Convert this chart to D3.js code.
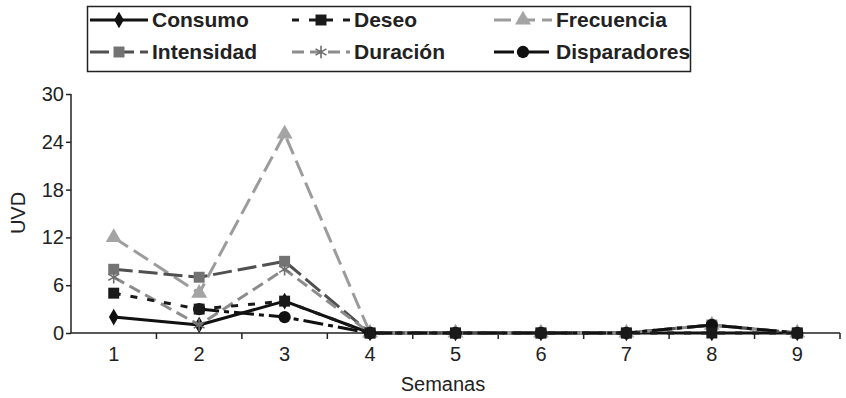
<!DOCTYPE html>
<html><head><meta charset="utf-8">
<script src="https://cdn.jsdelivr.net/npm/d3@7"></script>
<style>body{margin:0;background:#fff;}svg{display:block;font-family:"Liberation Sans",Arial,sans-serif;}</style>
</head><body><svg id="c" width="846" height="398"></svg>
<script>
const weeks = ["1","2","3","4","5","6","7","8","9"];
const consumo      = [2,1,4,0,0,0,0,0,0];
const deseo        = [5,3,4,0,0,0,0,0,0];
const frecuencia   = [12,5,25,0,0,0,0,1,0];
const intensidad   = [8,7,9,0,0,0,0,1,0];
const duracion     = [7,1,8,0,0,0,0,1,0];
const disparadores = [null,3,2,0,0,0,0,1,0];
const yTicks = [0,6,12,18,24,30];

const series = {
  "Consumo":     {values:consumo, stroke:"#111", fill:"#111", dash:null, sym:"diamond"},
  "Deseo":       {values:deseo, stroke:"#1a1a1a", fill:"#1a1a1a", dash:"7,10", sym:"square"},
  "Frecuencia":  {values:frecuencia, stroke:"#9c9c9c", fill:"#a4a4a4", dash:"17,7", sym:"triangle"},
  "Intensidad":  {values:intensidad, stroke:"#505050", fill:"#737373", dash:"19,6", sym:"square"},
  "Duración":    {values:duracion, stroke:"#8c8c8c", fill:"#6e6e6e", dash:"12,6", sym:"star"},
  "Disparadores":{values:disparadores, stroke:"#111", fill:"#111", dash:"20,5,5,5", sym:"circle"}
};
const drawOrder = ["Consumo","Frecuencia","Intensidad","Duración","Disparadores","Deseo"];
const legendOrder = ["Consumo","Deseo","Frecuencia","Intensidad","Duración","Disparadores"];

const svg = d3.select("#c");
const x = d3.scaleBand().domain(weeks).range([71, 840]).padding(0);
const y = d3.scaleLinear().domain([0,30]).range([333, 94]);
const cx = d => x(d) + x.bandwidth()/2;
const FONT = "Liberation Sans, Arial, sans-serif";

// y axis
const yAxis = svg.append("g").attr("transform","translate(71,0)")
  .call(d3.axisLeft(y).tickValues(yTicks).tickSize(5).tickPadding(2));
yAxis.select(".domain").attr("stroke","#222").attr("stroke-width",1.5).attr("d","M0,94V333");
yAxis.selectAll(".tick line").attr("stroke","#222").attr("stroke-width",1.5);
yAxis.selectAll(".tick text").attr("font-size",20).attr("fill","#222").attr("font-family",FONT);

// x axis
const xAxis = svg.append("g").attr("transform","translate(0,333)")
  .call(d3.axisBottom(x).tickSize(0).tickPadding(14));
xAxis.select(".domain").attr("stroke","#222").attr("stroke-width",1.5).attr("d","M71,0H840");
xAxis.selectAll(".tick text").attr("font-size",20).attr("fill","#222").attr("font-family",FONT);
svg.append("g").selectAll("line").data(weeks.slice(1).concat(["end"])).join("line")
  .attr("x1", d => d==="end" ? 840 : x(d)).attr("x2", d => d==="end" ? 840 : x(d))
  .attr("y1",333).attr("y2",339).attr("stroke","#222").attr("stroke-width",1.5);

svg.append("text").attr("x",443).attr("y",391).attr("text-anchor","middle")
  .attr("font-size",20).attr("fill","#222").text("Semanas");
svg.append("text").attr("transform","translate(25,213) rotate(-90)").attr("text-anchor","middle")
  .attr("font-size",20).attr("fill","#222").text("UVD");

function symPath(sym){
  const t = {circle:d3.symbolCircle, diamond:d3.symbolDiamond, square:d3.symbolSquare, triangle:d3.symbolTriangle, star:d3.symbolAsterisk}[sym];
  const size = {circle:120, diamond:80, square:120, triangle:110, star:110}[sym];
  return d3.symbol().type(t).size(size)();
}

const line = d3.line().defined(d => d.v !== null).x(d => cx(d.w)).y(d => y(d.v));
drawOrder.forEach(n => {
  const s = series[n];
  const pts = weeks.map((w,i) => ({w, v:s.values[i]}));
  svg.append("path").datum(pts).attr("d", line).attr("fill","none")
    .attr("stroke", s.stroke).attr("stroke-width",3)
    .attr("stroke-dasharray", s.dash).attr("stroke-linejoin","round");
  svg.append("g").selectAll("path").data(pts.filter(d => d.v !== null)).join("path")
    .attr("d", symPath(s.sym))
    .attr("transform", d => `translate(${cx(d.w)},${y(d.v)})`)
    .attr("fill", s.sym==="star" ? "none" : s.fill)
    .attr("stroke", s.sym==="star" ? s.fill : "none")
    .attr("stroke-width", 1.6);
});

// legend
const leg = svg.append("g");
leg.append("rect").attr("x",87.5).attr("y",6.5).attr("width",603).attr("height",65)
  .attr("fill","#fff").attr("stroke","#222").attr("stroke-width",1.5);
const colX = [90, 292, 494];
const rowY = [20, 52];
legendOrder.forEach((n,i) => {
  const s = series[n];
  const gx = colX[i%3], gy = rowY[Math.floor(i/3)];
  const g = leg.append("g").attr("transform",`translate(${gx},${gy})`);
  g.append("line").attr("x1",0).attr("x2",58).attr("y1",0).attr("y2",0)
    .attr("stroke", s.stroke).attr("stroke-width",3).attr("stroke-dasharray", s.dash);
  g.append("path").attr("d", symPath(s.sym)).attr("transform","translate(29,0)")
    .attr("fill", s.sym==="star" ? "none" : s.fill)
    .attr("stroke", s.sym==="star" ? s.fill : "none").attr("stroke-width",1.6);
  g.append("text").attr("x",62).attr("y",7).attr("font-size",21).attr("font-weight","bold")
    .attr("fill","#222").text(n);
});
</script></body></html>
